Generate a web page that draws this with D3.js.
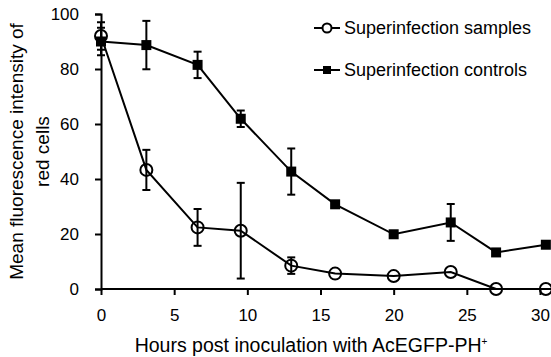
<!DOCTYPE html>
<html>
<head>
<meta charset="utf-8">
<script src="https://d3js.org/d3.v7.min.js"></script>
<style>
  body { margin: 0; background: #fff; }
  svg { display: block; font-family: "Liberation Sans", Arial, sans-serif; }
</style>
</head>
<body>
<div id="chart"></div>
<script>
// hours post inoculation
var hours = [0, 3.1, 6.6, 9.55, 13.0, 16.0, 20.0, 23.9, 27.0, 30.4];
// superinfection samples (open circles)
var samples = [92, 43.3, 22.4, 21.2, 8.5, 5.6, 4.7, 6.2, 0, 0];
var samplesErr = [5, 7.3, 6.7, 17.4, 3, 0, 0, 0, 0, 0];
// superinfection controls (filled squares)
var controls = [90, 88.7, 81.5, 61.9, 42.7, 30.8, 19.9, 24.2, 13.3, 16.1];
var controlsErr = [5, 8.8, 4.8, 3, 8.4, 0, 0, 6.7, 0, 0];

var xTicks = [0, 5, 10, 15, 20, 25, 30];
var yTicks = [0, 20, 40, 60, 80, 100];
var seriesNames = ["Superinfection samples", "Superinfection controls"];

var width = 551, height = 357;

var svg = d3.select("#chart").append("svg")
    .attr("width", width)
    .attr("height", height);

var x = d3.scaleLinear().domain([0, 30]).range([101, 540]);
var y = d3.scaleLinear().domain([0, 100]).range([289, 14]);

// axes
var yAxis = svg.append("g")
    .attr("transform", "translate(" + x(0) + ",0)")
    .call(d3.axisLeft(y).tickValues(yTicks).tickSize(6).tickPadding(16));

var xAxis = svg.append("g")
    .attr("transform", "translate(0," + y(0) + ")")
    .call(d3.axisBottom(x).tickValues(xTicks).tickSize(6).tickPadding(14));

xAxis.select(".domain").remove();
xAxis.append("line")
    .attr("x1", x(0)).attr("x2", width)
    .attr("stroke", "#000").attr("stroke-width", 2);

[xAxis, yAxis].forEach(function (g) {
    g.selectAll("line").attr("stroke", "#000").attr("stroke-width", 2);
    g.select(".domain").attr("stroke", "#000").attr("stroke-width", 2);
    g.selectAll("text")
        .attr("fill", "#000")
        .style("font-size", "17px")
        .style("font-family", "'Liberation Sans', Arial, sans-serif");
});

// axis titles
svg.append("text")
    .attr("x", 311)
    .attr("y", 352)
    .attr("text-anchor", "middle")
    .style("font-size", "19.5px")
    .text("Hours post inoculation with AcEGFP-PH")
    .append("tspan")
    .attr("dy", -7)
    .style("font-size", "10px")
    .text("+");

var yMid = (y(0) + y(100)) / 2;
var yTitle = svg.append("text")
    .attr("transform", "translate(23," + yMid + ") rotate(-90)")
    .attr("text-anchor", "middle")
    .style("font-size", "19px");
yTitle.append("tspan").attr("x", 0).attr("dy", 0).text("Mean fluorescence intensity of");
yTitle.append("tspan").attr("x", 0).attr("dy", 26).text("red cells");

var line = d3.line()
    .x(function (d) { return x(d.h); })
    .y(function (d) { return y(d.v); });

function build(vals, errs) {
    return hours.map(function (h, i) { return { h: h, v: vals[i], e: errs[i] }; });
}

var sData = build(samples, samplesErr);
var cData = build(controls, controlsErr);

function drawErr(data) {
    var g = svg.append("g").attr("stroke", "#000").attr("stroke-width", 2);
    data.filter(function (d) { return d.e > 0; }).forEach(function (d) {
        var cx = x(d.h);
        g.append("line").attr("x1", cx).attr("x2", cx)
            .attr("y1", y(d.v - d.e)).attr("y2", y(d.v + d.e));
        [d.v - d.e, d.v + d.e].forEach(function (v) {
            g.append("line").attr("x1", cx - 4).attr("x2", cx + 4)
                .attr("y1", y(v)).attr("y2", y(v));
        });
    });
}

drawErr(cData);
drawErr(sData);

svg.append("path").datum(cData)
    .attr("d", line).attr("fill", "none")
    .attr("stroke", "#000").attr("stroke-width", 2);
svg.append("path").datum(sData)
    .attr("d", line).attr("fill", "none")
    .attr("stroke", "#000").attr("stroke-width", 2);

svg.append("g").selectAll("rect").data(cData).enter().append("rect")
    .attr("x", function (d) { return x(d.h) - 5; })
    .attr("y", function (d) { return y(d.v) - 5; })
    .attr("width", 10).attr("height", 10)
    .attr("fill", "#000");

svg.append("g").selectAll("circle").data(sData).enter().append("circle")
    .attr("cx", function (d) { return x(d.h); })
    .attr("cy", function (d) { return y(d.v); })
    .attr("r", 6)
    .attr("fill", "none")
    .attr("stroke", "#000").attr("stroke-width", 2);

// legend
var legend = svg.append("g").attr("transform", "translate(314,28)");
seriesNames.forEach(function (name, i) {
    var g = legend.append("g").attr("transform", "translate(0," + (i * 42) + ")");
    g.append("line").attr("x1", 0).attr("x2", 26)
        .attr("stroke", "#000").attr("stroke-width", 2);
    if (i === 0) {
        g.append("circle").attr("cx", 13).attr("r", 4.5)
            .attr("fill", "#fff").attr("stroke", "#000").attr("stroke-width", 2);
    } else {
        g.append("rect").attr("x", 9).attr("y", -4).attr("width", 8).attr("height", 8)
            .attr("fill", "#000");
    }
    g.append("text").attr("x", 30).attr("y", 0).attr("dy", "0.35em")
        .style("font-size", "18px")
        .text(name);
});
</script>
</body>
</html>
